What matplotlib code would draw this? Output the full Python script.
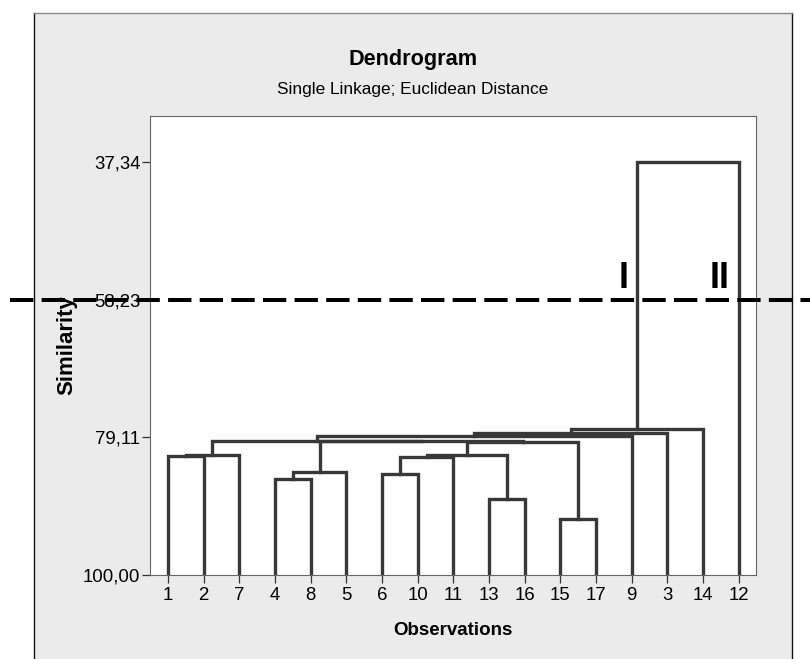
import matplotlib
matplotlib.use("Agg")
import matplotlib.pyplot as plt
import matplotlib.transforms as mtransforms
from matplotlib.lines import Line2D
from matplotlib.patches import Rectangle

# observations in the order they appear along the x axis
observations = ["1", "2", "7", "4", "8", "5", "6", "10", "11", "13", "16",
                "15", "17", "9", "3", "14", "12"]

# single linkage merges (children are observations or earlier merges m0..)
merge_left = ["15", "13", "4", "6", "m2", "m3", "1", "m5", "m6", "m7",
              "m4", "m8", "m11", "m12", "m13", "m14"]
merge_right = ["17", "16", "8", "10", "5", "11", "2", "m1", "7", "m0",
               "m9", "m10", "9", "3", "14", "12"]
merge_similarity = [91.50, 88.47, 85.48, 84.75, 84.37, 82.05, 81.95, 81.82,
                    81.75, 79.78, 79.70, 79.62, 78.96, 78.41, 77.82, 37.34]

y_ticks = [37.34, 58.23, 79.11, 100.00]
cut_level = 58.23
group_labels = ["I", "II"]
group_label_pos = [13.76, 16.46]

line_color = "#383838"
font = ["Liberation Sans", "DejaVu Sans"]

fig = plt.figure(figsize=(8.1, 6.59), dpi=100)
fig.patch.set_facecolor("white")

# grey graph region like Minitab
panel = Rectangle((34 / 810, -0.02), (792 - 34) / 810, 1.02 - 13 / 659,
                  transform=fig.transFigure, facecolor="#ebebeb",
                  edgecolor="none", zorder=0)
fig.add_artist(panel)
fig.add_artist(Line2D([34 / 810, 34 / 810], [0, 1 - 13 / 659], transform=fig.transFigure,
                      color="#111111", lw=1.0))
fig.add_artist(Line2D([792 / 810, 792 / 810], [0, 1 - 13 / 659], transform=fig.transFigure,
                      color="#111111", lw=1.0))
fig.add_artist(Line2D([34 / 810, 792 / 810], [1 - 13 / 659, 1 - 13 / 659],
                      transform=fig.transFigure, color="#888888", lw=1.0))

ax = fig.add_axes([150 / 810, 1 - 575 / 659, (756 - 150) / 810, (575 - 116) / 659])
ax.set_facecolor("white")

# position and height of every node
pos = {name: i + 1 for i, name in enumerate(observations)}
height = {name: 100.0 for name in observations}
for i, (a, b, s) in enumerate(zip(merge_left, merge_right, merge_similarity)):
    xa, xb = pos[a], pos[b]
    ax.plot([xa, xa, xb, xb], [height[a], s, s, height[b]], color=line_color,
            lw=2.4, solid_joinstyle="miter", solid_capstyle="projecting")
    pos["m%d" % i] = (xa + xb) / 2
    height["m%d" % i] = s

ax.set_xlim(0.5, 17.48)
ax.set_ylim(100, 30.36)

ax.set_xticks(range(1, len(observations) + 1))
ax.set_xticklabels(observations)
ax.set_yticks(y_ticks)
ax.set_yticklabels([f"{v:.2f}".replace(".", ",") for v in y_ticks])
ax.tick_params(axis="both", direction="out", length=6, width=0.9, color="#333333",
               labelsize=13.4, labelfontfamily=font)
ax.tick_params(axis="y", pad=1)
ax.tick_params(axis="x", pad=3)
for sp in ax.spines.values():
    sp.set_color("#666666")
    sp.set_linewidth(0.8)

ax.set_xlabel("Observations", fontsize=13.5, fontweight="bold", family=font)
ax.xaxis.set_label_coords(0.5, -0.1307)
ax.xaxis.label.set_verticalalignment("baseline")
ax.set_ylabel("Similarity", fontsize=16, fontweight="bold", family=font)
ax.yaxis.set_label_coords(-0.137, 0.5)
ax.yaxis.label.set_verticalalignment("center")

fig.text(413 / 810, 1 - 64.5 / 659, "Dendrogram", ha="center", va="baseline",
         fontsize=15.6, fontweight="bold", family=font)
fig.text(413 / 810, 1 - 94 / 659, "Single Linkage; Euclidean Distance", ha="center",
         va="baseline", fontsize=12.4, family=font)

# cut line across the whole figure
trans = mtransforms.blended_transform_factory(fig.transFigure, ax.transData)
fig.add_artist(Line2D([10 / 810, 1.0], [cut_level, cut_level], transform=trans,
                      color="black", lw=2.9, linestyle=(0, (5.8, 2.05)), zorder=10))

for lab, x in zip(group_labels, group_label_pos):
    ax.text(x, cut_level - 1.8, lab, ha="center", va="baseline", fontsize=26,
            fontweight="bold", family=font, color="black")

fig.savefig("out.png", dpi=100)
